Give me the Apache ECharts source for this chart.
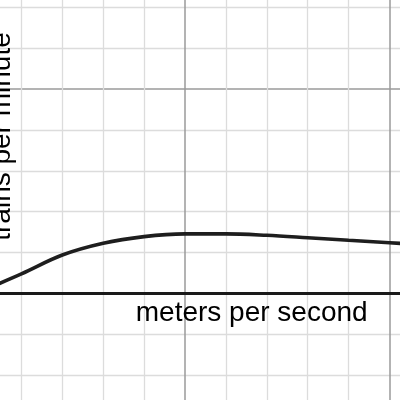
<!DOCTYPE html>
<html>
<head>
<meta charset="utf-8">
<script src="https://cdn.jsdelivr.net/npm/echarts@6/dist/echarts.min.js"></script>
<style>
html,body{margin:0;padding:0;background:#fff;}
#chart{width:400px;height:400px;}
</style>
</head>
<body>
<div id="chart"></div>
<script>
// Curve readings (x in grid units, y in grid units)
var speedX = [0, 1, 2, 3, 4, 5, 6, 7, 8, 9, 10, 11];
var trainsY = [0.05, 0.48, 0.94, 1.227, 1.39, 1.457, 1.458, 1.423, 1.364, 1.301, 1.242, 1.18];
var xLabel = 'meters per second';
var yLabel = 'trains per minute';

var data = speedX.map(function (x, i) { return [x, trainsY[i]]; });

var chart = echarts.init(document.getElementById('chart'), null, {renderer: 'canvas'});
var fontFam = '"Liberation Sans", Arial, sans-serif';
chart.setOption({
  animation: false,
  backgroundColor: '#ffffff',
  grid: {left: -224, top: -115.5, width: 818, height: 613.5, containLabel: false, outerBoundsMode: 'none'},
  xAxis: {
    type: 'value', min: -5, max: 15, interval: 5, z: 1,
    axisLine: {show: true, onZero: true, lineStyle: {color: '#1a1a1a', width: 3}},
    axisTick: {show: false}, axisLabel: {show: false},
    splitLine: {show: true, lineStyle: {color: '#9a9a9a', width: 1.5}},
    minorTick: {show: false, splitNumber: 5},
    minorSplitLine: {show: true, lineStyle: {color: '#dcdcdc', width: 1.3}}
  },
  yAxis: {
    type: 'value', min: -5, max: 10, interval: 5,
    axisLine: {show: false}, axisTick: {show: false}, axisLabel: {show: false},
    splitLine: {show: true, lineStyle: {color: '#9a9a9a', width: 1.5}},
    minorTick: {show: false, splitNumber: 5},
    minorSplitLine: {show: true, lineStyle: {color: '#dcdcdc', width: 1.3}}
  },
  series: [{
    type: 'line', data: data, smooth: 0.35, showSymbol: false, symbol: 'none',
    lineStyle: {color: '#1e1e1e', width: 3.6}, z: 3
  }],
  graphic: [
    {type: 'text', x: 251.7, y: 313, z: 10,
     style: {text: xLabel, font: '28px ' + fontFam, fill: '#000', align: 'center', verticalAlign: 'middle'}},
    {type: 'text', x: 2.5, y: 136.5, rotation: Math.PI / 2, z: 10,
     style: {text: yLabel, font: '28px ' + fontFam, fill: '#000', align: 'center', verticalAlign: 'middle'}}
  ]
});
</script>
</body>
</html>
